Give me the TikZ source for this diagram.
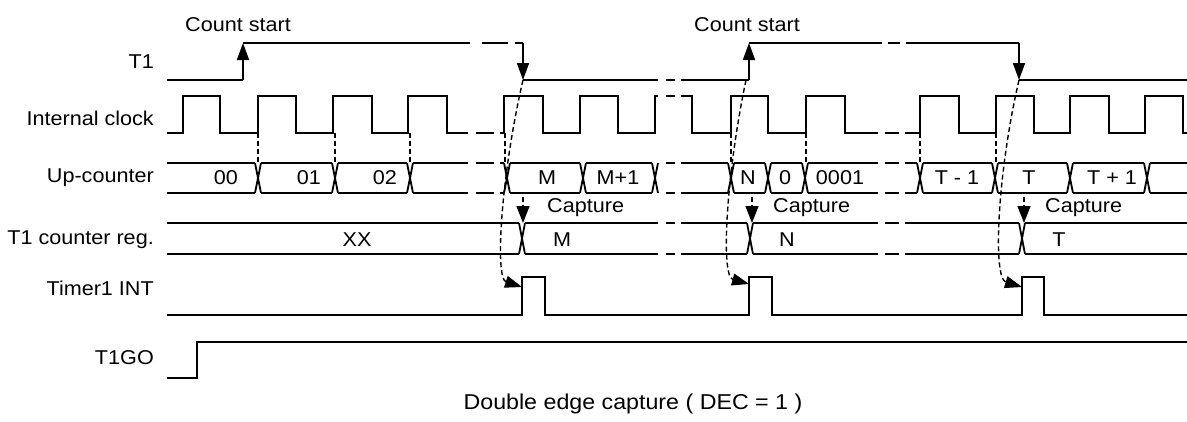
\documentclass[tikz,border=0pt]{standalone}
\usepackage{fontspec}
\setmainfont[FakeStretch=1.08]{Liberation Sans}
\usetikzlibrary{arrows.meta}
\newcommand\bxx[3]{\draw[sig] (#1-3,#2)--(#1+3,#3) (#1-3,#3)--(#1+3,#2);}
\newcommand\bseg[4]{\draw[sig] (#1+3,#3)--(#2-3,#3) (#1+3,#4)--(#2-3,#4);}
\newcommand\bk[7]{\draw[sig] (#2,#1)--(#3,#1) (#4,#1)--(#5,#1) (#6,#1)--(#7,#1);}
\begin{document}
\begin{tikzpicture}[x=1pt,y=-1pt,
  sig/.style={line width=1.8pt},
  dsh/.style={line width=1.4pt,dash pattern=on 5pt off 3pt},
  tip/.style={-{Triangle[length=17pt,width=12pt]}},
  lbl/.style={font=\fontsize{20}{22}\selectfont,inner sep=0pt}]
\useasboundingbox (0,0) rectangle (1187,421);
% row labels
\node[lbl,anchor=east] (lT1) at (154,62) {T1};
\node[lbl,anchor=east] (lclk) at (154,118) {Internal clock};
\node[lbl,anchor=east] (lup) at (154,178) {Up-counter};
\node[lbl,anchor=east] (lreg) at (154,240) {T1 counter reg.};
\node[lbl,anchor=east] (lint) at (154,288) {Timer1 INT};
\node[lbl,anchor=east] (lgo) at (154,358) {T1GO};
\node[lbl] (cs1) at (238,25) {Count start};
\node[lbl] (cs2) at (747,25) {Count start};
\node[lbl,anchor=west] (cap1) at (547,208) {Capture};
\node[lbl,anchor=west] (cap2) at (773,208) {Capture};
\node[lbl,anchor=west] (cap3) at (1045,208) {Capture};
\node[lbl,font=\fontsize{21.5}{23}\selectfont] (cap) at (633,404) {Double edge capture ( DEC = 1 )};
% T1
\draw[sig] (167,80) -- (243,80);
\draw[sig,tip] (243,80) -- (243,43);
\draw[sig] (243,43)--(470,43) (482,43)--(508,43) (515,43)--(523,43);
\draw[sig,tip] (523,43) -- (523,80);
\draw[sig] (523,80)--(658,80) (666,80)--(675,80) (681,80)--(749,80);
\draw[sig,tip] (749,80) -- (749,43);
\draw[sig] (749,43)--(882,43) (888,43)--(900,43) (906,43)--(1019,43);
\draw[sig,tip] (1019,43) -- (1019,80);
\draw[sig] (1019,80) -- (1187,80);
% clock
\draw[sig] (167,133) -| (183,96) -| (220,133) -| (258,96) -| (296,133) -| (333,96) -| (372,133) -| (408,96) -| (447,133) -- (468,133);
\draw[sig] (476,133)--(494,133);
\draw[sig] (500,133) -| (504,96) -| (543,133) -| (580,96) -| (618,133) -| (655,96) -- (658,96);
\draw[sig] (666,96)--(675,96);
\draw[sig] (681,96) -| (692,133) -| (731,96) -| (768,133) -| (806,96) -| (845,133) -- (878,133);
\draw[sig] (885,133)--(899,133);
\draw[sig] (905,133) -| (920,96) -| (959,133) -| (996,96) -| (1034,133) -| (1070,96) -| (1109,133) -| (1145,96) -| (1183,133) -- (1187,133);
% up-counter
\draw[sig] (167,163)--(255,163) (167,193)--(255,193);
\foreach \x in {258,335,410,507,583,655,731,768,805,920,995,1070,1147} {\bxx{\x}{163}{193}}
\bseg{258}{335}{163}{193}
\bseg{335}{410}{163}{193}
\bk{163}{413}{468}{476}{494}{500}{504}
\bk{193}{413}{468}{476}{494}{500}{504}
\bseg{507}{583}{163}{193}
\bseg{583}{655}{163}{193}
\bk{163}{658}{658}{666}{675}{681}{728}
\bk{193}{658}{658}{666}{675}{681}{728}
\bseg{731}{768}{163}{193}
\bseg{768}{805}{163}{193}
\bk{163}{808}{878}{885}{899}{905}{917}
\bk{193}{808}{878}{885}{899}{905}{917}
\bseg{920}{995}{163}{193}
\bseg{995}{1070}{163}{193}
\bseg{1070}{1147}{163}{193}
\draw[sig] (1150,163)--(1187,163) (1150,193)--(1187,193);
\node[lbl] (u1) at (226,178) {00};
\node[lbl] (u2) at (309,178) {01};
\node[lbl] (u3) at (385,178) {02};
\node[lbl] (u4) at (547,178) {M};
\node[lbl] (u5) at (618,178) {M+1};
\node[lbl] (u6) at (748,178) {N};
\node[lbl] (u7) at (785,178) {0};
\node[lbl] (u8) at (840,178) {0001};
\node[lbl] (u9) at (957,178) {T - 1};
\node[lbl] (u10) at (1029,178) {T};
\node[lbl] (u11) at (1112,178) {T + 1};
% counter reg
\draw[sig] (167,223)--(519,223) (167,254)--(519,254);
\foreach \x in {522,750,1022} {\bxx{\x}{223}{254}}
\bk{223}{525}{658}{666}{675}{681}{747}
\bk{254}{525}{658}{666}{675}{681}{747}
\bk{223}{753}{878}{885}{899}{905}{1019}
\bk{254}{753}{878}{885}{899}{905}{1019}
\draw[sig] (1025,223)--(1187,223) (1025,254)--(1187,254);
\node[lbl] (r1) at (357,240) {XX};
\node[lbl] (r2) at (562,240) {M};
\node[lbl] (r3) at (787,240) {N};
\node[lbl] (r4) at (1059,240) {T};
% Timer1 INT
\draw[sig] (167,315) -| (522,277) -| (545,315) -| (749,277) -| (772,315) -| (1022,277) -| (1044,315) -- (1187,315);
% T1GO
\draw[sig] (167,378) -| (197,342) -- (1187,342);
% dashed verticals clock -> counter
\foreach \x in {258,335,410,505,731,806,920,996} {\draw[dsh] (\x,133)--(\x,163);}
% capture arrows
\foreach \x in {523,752,1024} {\draw[dsh,-{Triangle[length=17pt,width=13pt]}] (\x,197)--(\x,223);}
% curved arrows
\draw[dsh,tip] (523,80) .. controls (502,170) and (494,278) .. (522,287);
\draw[dsh,tip] (746,80) .. controls (727,170) and (720,276) .. (749,284);
\draw[dsh,tip] (1019,80) .. controls (998,170) and (992,278) .. (1022,287);
\end{tikzpicture}
\end{document}
